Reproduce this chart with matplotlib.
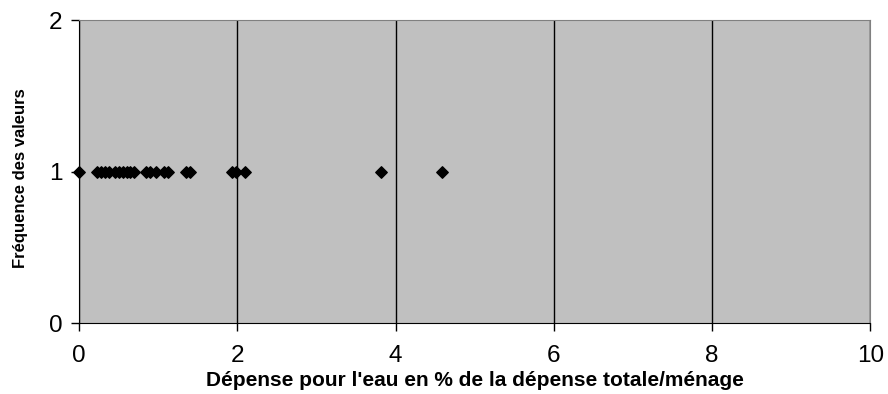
import numpy as np
import matplotlib.pyplot as plt

plt.rcParams['font.family'] = ['Liberation Sans', 'DejaVu Sans']

# dépense pour l'eau (% de la dépense totale par ménage)
depense = [0.0, 0.23, 0.28, 0.33, 0.38, 0.45, 0.5, 0.55, 0.6, 0.65, 0.7,
           0.85, 0.9, 0.97, 1.08, 1.13, 1.35, 1.4, 1.93, 1.98, 2.1, 3.82, 4.59]
frequence = [1] * len(depense)

fig = plt.figure(figsize=(8.88, 3.94), dpi=100)
ax = fig.add_axes([0.089, 0.18, 0.891, 0.769])
ax.set_facecolor('#C0C0C0')

ax.scatter(depense, frequence, marker='D', s=34, color='black', zorder=3,
           clip_on=False)

ax.set_xlim(0, 10)
ax.set_ylim(0, 2)
ax.set_xticks(np.arange(0, 11, 2))
ax.set_yticks([0, 1, 2])
ax.grid(axis='x', color='black', linewidth=1)

for side in ['top', 'right']:
    ax.spines[side].set_color('#808080')
ax.spines['left'].set_color('black')
ax.spines['bottom'].set_color('black')

ax.tick_params(axis='both', labelsize=17.5, direction='out', length=6, width=1)
ax.tick_params(axis='x', pad=10)
ax.tick_params(axis='y', pad=6)

ax.set_xlabel("Dépense pour l'eau en % de la dépense totale/ménage",
              fontsize=15, fontweight='bold', labelpad=3)
ax.set_ylabel('Fréquence des valeurs', fontsize=12, fontweight='bold')
ax.yaxis.set_label_coords(-0.064, 0.48)

plt.savefig('out.png', dpi=100)
